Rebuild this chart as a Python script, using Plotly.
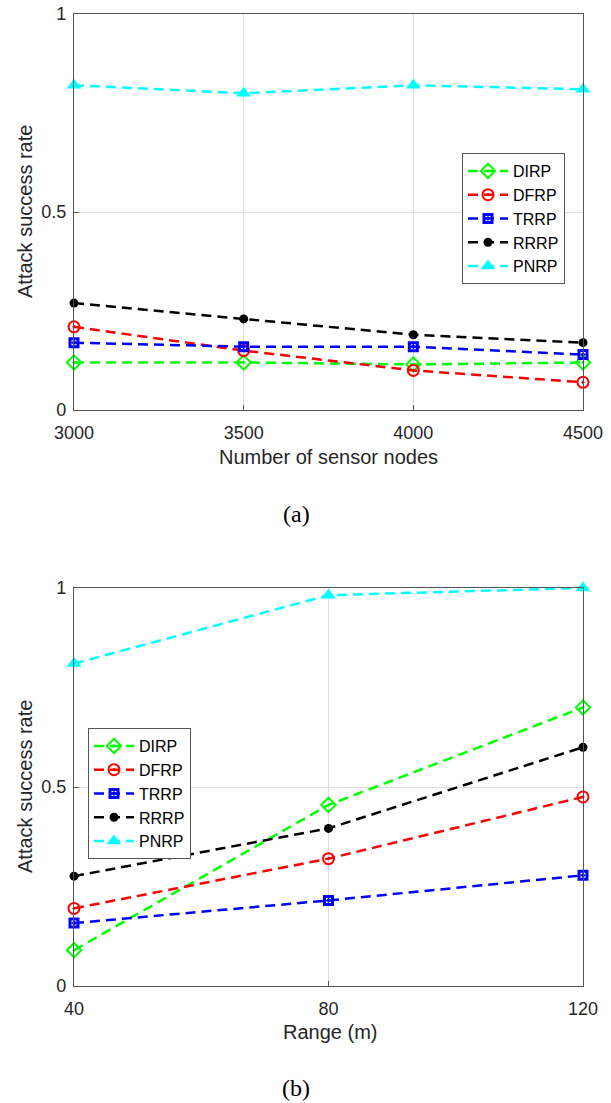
import plotly.graph_objects as go

# ---- data ----
nodes = [3000, 3500, 4000, 4500]
ranges = [40, 80, 120]
series_names = ["DIRP", "DFRP", "TRRP", "RRRP", "PNRP"]

a_DIRP = [0.12, 0.12, 0.115, 0.12]
a_DFRP = [0.21, 0.15, 0.10, 0.07]
a_TRRP = [0.17, 0.16, 0.16, 0.14]
a_RRRP = [0.27, 0.23, 0.19, 0.17]
a_PNRP = [0.82, 0.80, 0.82, 0.81]

b_DIRP = [0.09, 0.455, 0.70]
b_DFRP = [0.195, 0.32, 0.475]
b_TRRP = [0.158, 0.215, 0.278]
b_RRRP = [0.276, 0.396, 0.60]
b_PNRP = [0.81, 0.982, 1.0]

y_ticks = [0, 0.5, 1]
y_ticklabels = ["0", "0.5", "1"]

# ---- styles ----
W, H = 611, 1103
colors = {"DIRP": "#00FF00", "DFRP": "#FF0000", "TRRP": "#0000FF",
          "RRRP": "#000000", "PNRP": "#00FFFF"}
symbols = {"DIRP": "diamond-open-dot", "DFRP": "circle-open-dot",
           "TRRP": "square-open-dot", "RRRP": "circle", "PNRP": "triangle-up"}
msizes = {"DIRP": 11, "DFRP": 11, "TRRP": 8, "RRRP": 9, "PNRP": 13}
mline = {"DIRP": 2, "DFRP": 2, "TRRP": 3, "RRRP": 0, "PNRP": 0}

FONT = "Liberation Sans, Arial, sans-serif"
SERIF = "Liberation Serif, Times New Roman, serif"
TICKCOL = "#262626"

fig = go.Figure()

data_a = [a_DIRP, a_DFRP, a_TRRP, a_RRRP, a_PNRP]
data_b = [b_DIRP, b_DFRP, b_TRRP, b_RRRP, b_PNRP]

def add_series(xv, yv, name, xa, ya, legend):
    fig.add_trace(go.Scatter(
        x=xv, y=yv, name=name, mode="lines+markers",
        xaxis=xa, yaxis=ya, legend=legend, cliponaxis=False,
        line=dict(color=colors[name], width=2.5, dash="10px,6px"),
        marker=dict(symbol=symbols[name], size=msizes[name], color=colors[name],
                    line=dict(color=colors[name], width=mline[name])),
    ))

for name, yv in zip(series_names, data_a):
    add_series(nodes, yv, name, "x", "y", "legend")
for name, yv in zip(series_names, data_b):
    add_series(ranges, yv, name, "x2", "y2", "legend2")

def px_x(p):
    return p / W

def px_y(p):
    return 1 - p / H

xdom = [px_x(74), px_x(583)]
common_axis = dict(showline=True, linecolor="#555555", linewidth=1.2, mirror=True,
                   ticks="inside", ticklen=5, tickcolor="#555555", automargin=False,
                   showgrid=True, gridcolor="#DDDDDD", gridwidth=1, zeroline=False,
                   tickfont=dict(family=FONT, size=18, color=TICKCOL))

legend_common = dict(xanchor="left", yanchor="top", bgcolor="white",
                     bordercolor="#555555", borderwidth=1, itemwidth=40,
                     font=dict(family=FONT, size=16, color="#000000"),
                     tracegroupgap=0)

fig.update_layout(
    width=W, height=H, margin=dict(l=0, r=0, t=0, b=0, autoexpand=False),
    paper_bgcolor="white", plot_bgcolor="white",
    font=dict(family=FONT, color=TICKCOL),
    xaxis=dict(domain=xdom, anchor="y", range=[3000, 4500],
               tickvals=nodes, ticktext=[str(v) for v in nodes],
               ticklabelstandoff=6, **common_axis),
    yaxis=dict(domain=[px_y(410), px_y(14)], anchor="x", range=[0, 1],
               tickvals=y_ticks, ticktext=y_ticklabels,
               ticklabelstandoff=3, **common_axis),
    xaxis2=dict(domain=xdom, anchor="y2", range=[40, 120],
                tickvals=ranges, ticktext=[str(v) for v in ranges],
                ticklabelstandoff=6, **common_axis),
    yaxis2=dict(domain=[px_y(986), px_y(588)], anchor="x2", range=[0, 1],
                tickvals=y_ticks, ticktext=y_ticklabels,
                ticklabelstandoff=3, **common_axis),
    legend=dict(x=px_x(462), y=px_y(153), **legend_common),
    legend2=dict(x=px_x(88), y=px_y(728), **legend_common),
    showlegend=True,
)

annots = [
    dict(text="Number of sensor nodes", x=px_x(328), y=px_y(457), size=20, family=FONT, angle=0),
    dict(text="Attack success rate", x=px_x(25), y=px_y(212), size=20, family=FONT, angle=-90),
    dict(text="Range (m)", x=px_x(330), y=px_y(1032), size=20, family=FONT, angle=0),
    dict(text="Attack success rate", x=px_x(25), y=px_y(787), size=20, family=FONT, angle=-90),
    dict(text="(a)", x=px_x(296), y=px_y(514), size=24, family=SERIF, angle=0),
    dict(text="(b)", x=px_x(296), y=px_y(1088), size=24, family=SERIF, angle=0),
]
for a in annots:
    fig.add_annotation(text=a["text"], x=a["x"], y=a["y"], xref="paper", yref="paper",
                       xanchor="center", yanchor="middle", showarrow=False,
                       textangle=a["angle"],
                       font=dict(family=a["family"], size=a["size"],
                                 color="#000000" if a["family"] == SERIF else TICKCOL))

fig.write_html("out.html", config={"displayModeBar": False},
               post_script="document.body.style.margin='0px';")
